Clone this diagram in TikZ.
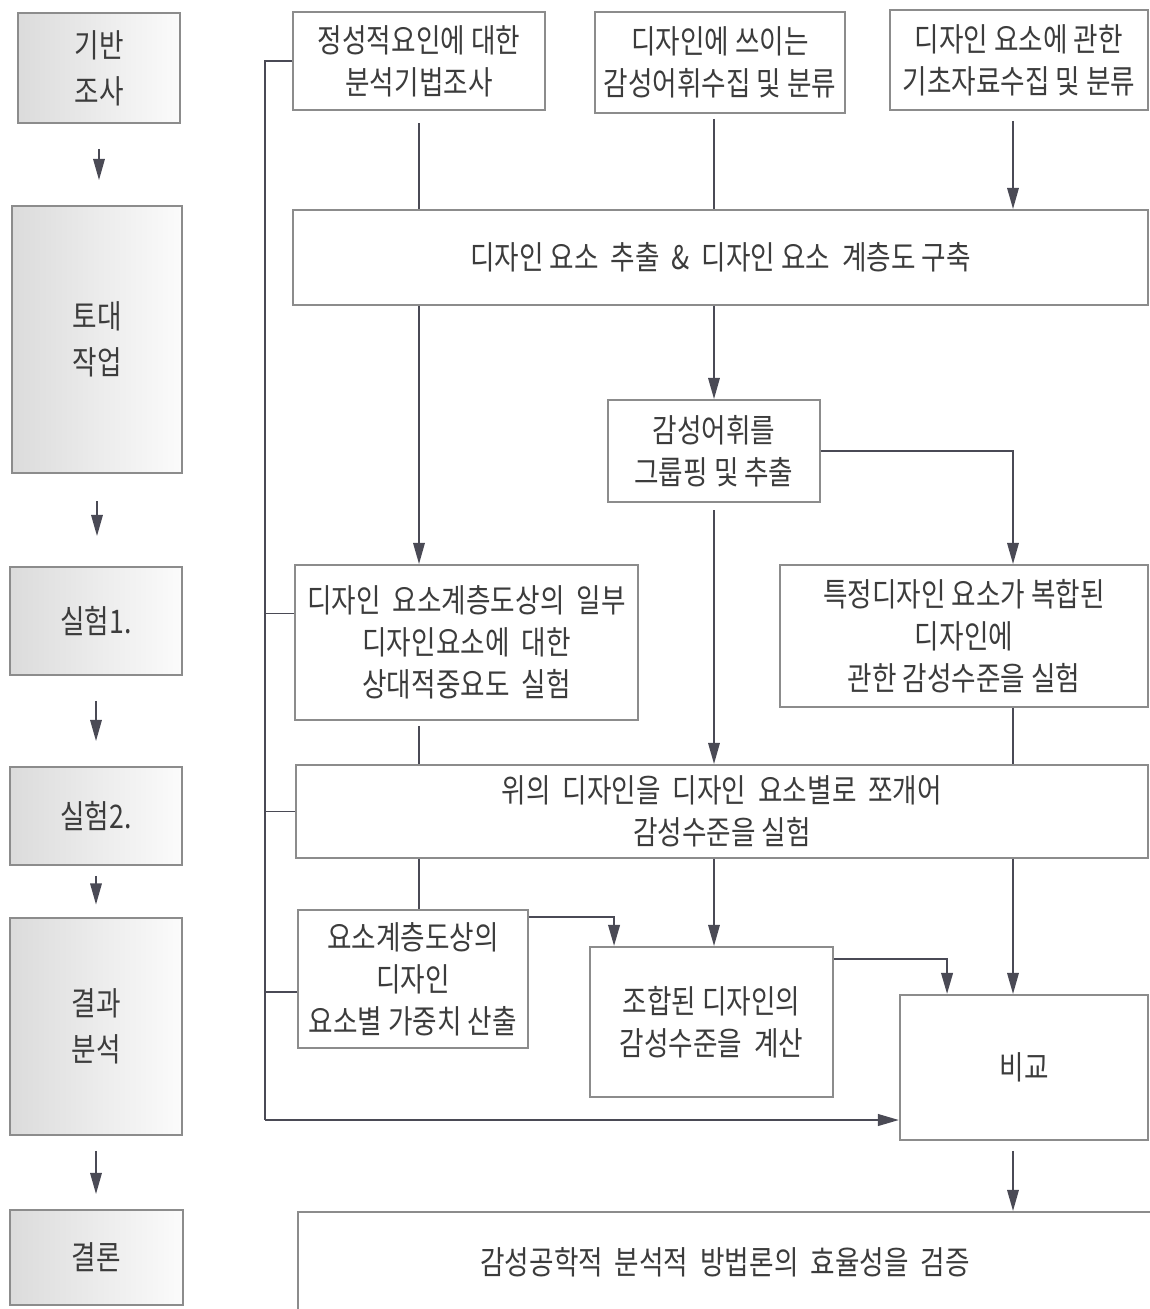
\documentclass[tikz,border=0pt]{standalone}
\usepackage{fontspec}
\setmainfont{Noto Sans CJK KR}[FakeStretch=0.82]
\usetikzlibrary{arrows.meta,positioning,calc}
\definecolor{linegray}{HTML}{4A4A55}
\definecolor{textgray}{HTML}{3C3C3C}
\definecolor{framegray}{HTML}{8C8C8C}

\begin{document}
\begin{tikzpicture}[x=0.02cm,y=-0.02cm,
  font=\fontsize{18.5}{24}\selectfont,
  box/.style={draw=framegray,line width=1.1pt,fill=white,text=textgray,align=center,inner sep=0pt},
  stage/.style={box,left color=gray!28,right color=gray!3,font=\fontsize{18.5}{26}\selectfont},
  link/.style={draw=linegray,line width=1.1pt},
  arr/.style={link,-{Triangle[length=12pt,width=6.5pt]}},
  bus/.style={draw=linegray,line width=1.5pt}]
  \useasboundingbox (0,0) rectangle (1150,1309); % 그림 전체 크기

  % 왼쪽 단계 상자
  \node[stage,minimum width=3.24cm,minimum height=2.2cm] (s1) at (99,68) {기반\\조사};
  \node[stage,minimum width=3.4cm,minimum height=5.34cm] (s2) at (97,339.5) {토대\\작업};
  \node[stage,minimum width=3.44cm,minimum height=2.16cm] (s3) at (96,621) {실험1.};
  \node[stage,minimum width=3.44cm,minimum height=1.96cm] (s4) at (96,816) {실험2.};
  \node[stage,minimum width=3.44cm,minimum height=4.34cm] (s5) at (96,1026.5) {결과\\분석};
  \node[stage,minimum width=3.46cm,minimum height=1.9cm] (s6) at (96.5,1257.5) {결론};

  \draw[arr,shorten <=0.5cm,shorten >=0.5cm] (s1.south) -- (s1.south |- s2.north); % 기반조사 -> 토대작업
  \draw[arr,shorten <=0.55cm,shorten >=0.6cm] (s2.south) -- (s2.south |- s3.north);
  \draw[arr,shorten <=0.5cm,shorten >=0.5cm] (s3.south) -- (s3.south |- s4.north);
  \draw[arr,shorten <=0.2cm,shorten >=0.25cm] (s4.south) -- (s4.south |- s5.north);
  \draw[arr,shorten <=0.3cm,shorten >=0.3cm] (s5.south) -- (s5.south |- s6.north);

  % 오른쪽 흐름 상자
  \node[box,minimum width=5.04cm,minimum height=1.96cm] (A) at (419,61) {정성적요인에 대한\\분석기법조사};
  \node[box,minimum width=5cm,minimum height=2.02cm] (B) at (720,62.5) {디자인에 쓰이는\\감성어휘수집 및 분류};
  \node[box,minimum width=5.16cm,minimum height=2cm] (C) at (1019,60) {디자인 요소에 관한\\기초자료수집 및 분류};
  \node[box,minimum width=17.1cm,minimum height=1.9cm] (D) at (720.5,257.5) {디자인 요소 \ 추출 \ \& \ 디자인 요소 \ 계층도 구축};
  \node[box,minimum width=4.24cm,minimum height=2.04cm] (E) at (714,451) {감성어휘를\\그룹핑 및 추출};
  \node[box,minimum width=6.86cm,minimum height=3.1cm] (F) at (466.5,642.5) {디자인 \ 요소계층도상의 \ 일부\\디자인요소에 \ 대한\\상대적중요도 \ 실험};
  \node[box,minimum width=7.36cm,minimum height=2.84cm] (G) at (964,636) {특정디자인 요소가 복합된\\디자인에\\관한 감성수준을 실험};
  \node[box,minimum width=17.04cm,minimum height=1.86cm] (H) at (722,811.5) {위의 \ 디자인을 \ 디자인 \ 요소별로 \ 쪼개어\\감성수준을 실험};
  \node[box,minimum width=4.6cm,minimum height=2.76cm] (I) at (413,979) {요소계층도상의\\디자인\\요소별 가중치 산출};
  \node[box,minimum width=4.86cm,minimum height=3cm] (J) at (711.5,1022) {조합된 디자인의\\감성수준을 \ 계산};
  \node[box,minimum width=4.96cm,minimum height=2.9cm] (K) at (1024,1067.5) {비교};
  \node[box,minimum width=17.08cm,minimum height=2cm] (L) at (725,1262) {감성공학적 \ 분석적 \ 방법론의 \ 효율성을 \ 검증};

  \coordinate (rx) at (1013,0); % 오른쪽 세로 연결선의 위치
  \coordinate (busend) at (265,1120); % 왼쪽 세로선의 아래 끝

  % 위쪽 연결
  \draw[link,shorten <=0.25cm] (A.south) -- (A.south |- D.north);
  \draw[link,shorten <=0.1cm] (E |- B.south) -- (E |- D.north);
  \draw[arr,shorten <=0.2cm] (C.south -| rx) -- (D.north -| rx);
  \draw[arr] (D.south -| A.south) -- (F.north -| A.south);
  \draw[arr] (D.south -| E) -- (E.north);
  \draw[arr] (E.east) -| (G.north -| rx);

  % 가운데 연결
  \draw[arr,shorten <=0.15cm] (E.south) -- (E.south |- H.north);
  \draw[link,shorten <=0.1cm] (F.south -| A.south) -- (H.north -| A.south);
  \draw[link] (G.south -| rx) -- (H.north -| rx);

  % 아래쪽 연결
  \draw[link] (H.south -| A.south) -- (I.north -| A.south);
  \draw[arr] (H.south -| E) -- (J.north -| E);
  \draw[arr] (H.south -| rx) -- (K.north -| rx);
  \draw[arr,line width=1.4pt] ($(I.north east)+(0,8)$) -| ($(J.north west)+(25,0)$); % 가중치 -> 계산
  \draw[arr,line width=1.4pt] ($(J.north east)+(0,13)$) -| ($(K.north west)+(48,0)$); % 계산 -> 비교
  \draw[arr,shorten <=0.2cm] (K.south -| rx) -- (L.north -| rx);

  % 왼쪽 세로선과 가지
  \coordinate (Fstub) at ($(F.west)+(0,-29)$);
  \coordinate (Istub) at ($(I.west)+(0,13)$);
  \draw[bus] (A.west) -| (busend);
  \draw[bus,-{Triangle[length=12pt,width=6.5pt]}] (busend) -- (busend -| K.west); % 비교로 가는 화살표
  \draw[link] (Fstub) -- (Fstub -| busend);
  \draw[link] (H.west) -- (H.west -| busend);
  \draw[link] (Istub) -- (Istub -| busend);
\end{tikzpicture}
\end{document}
